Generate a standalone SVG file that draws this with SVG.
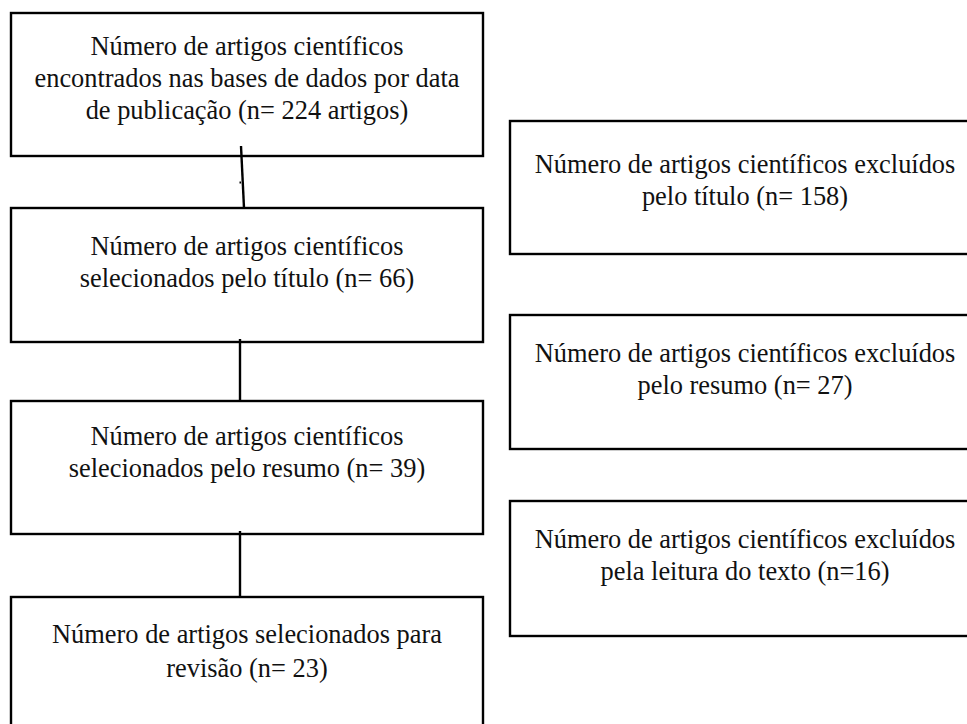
<svg xmlns="http://www.w3.org/2000/svg" width="967" height="724" viewBox="0 0 967 724">
<style>
.box{fill:#fff;stroke:#000;stroke-width:2.4}
.t{font-family:"Liberation Serif","Times New Roman",serif;font-size:26.4px;fill:#111;text-anchor:middle}
.c{stroke:#000;stroke-width:2.4;fill:none}
</style>
<rect width="967" height="724" fill="#fff"/>
<g id="n1"><rect class="box" x="11" y="13" width="472" height="143"/>
<text class="t" x="247" y="55">Número de artigos científicos</text>
<text class="t" x="247" y="87">encontrados nas bases de dados por data</text>
<text class="t" x="247" y="118.5">de publicação (n= 224 artigos)</text></g>
<g id="n2"><rect class="box" x="11" y="208" width="472" height="134"/>
<text class="t" x="247" y="255">Número de artigos científicos</text>
<text class="t" x="247" y="286.5">selecionados pelo título (n= 66)</text></g>
<g id="n3"><rect class="box" x="11" y="401" width="472" height="133"/>
<text class="t" x="247" y="445">Número de artigos científicos</text>
<text class="t" x="247" y="476.5">selecionados pelo resumo (n= 39)</text></g>
<g id="n4"><rect class="box" x="11" y="597" width="472" height="150"/>
<text class="t" x="247" y="643">Número de artigos selecionados para</text>
<text class="t" x="247" y="676.5">revisão (n= 23)</text></g>
<g id="e1"><rect class="box" x="510" y="121" width="480" height="133"/>
<text class="t" x="745" y="172.5">Número de artigos científicos excluídos</text>
<text class="t" x="745" y="204.5">pelo título (n= 158)</text></g>
<g id="e2"><rect class="box" x="510" y="315" width="480" height="134"/>
<text class="t" x="745" y="361.5">Número de artigos científicos excluídos</text>
<text class="t" x="745" y="394">pelo resumo (n= 27)</text></g>
<g id="e3"><rect class="box" x="510" y="501" width="480" height="135"/>
<text class="t" x="745" y="547.5">Número de artigos científicos excluídos</text>
<text class="t" x="745" y="580">pela leitura do texto (n=16)</text></g>
<g id="connectors">
<line class="c" x1="241" y1="146" x2="244" y2="208"/>
<rect x="239.5" y="181.5" width="1.5" height="2" fill="#000"/>
<line class="c" x1="240" y1="339" x2="240" y2="401"/>
<line class="c" x1="240" y1="531" x2="240" y2="597"/>
</g>
</svg>
